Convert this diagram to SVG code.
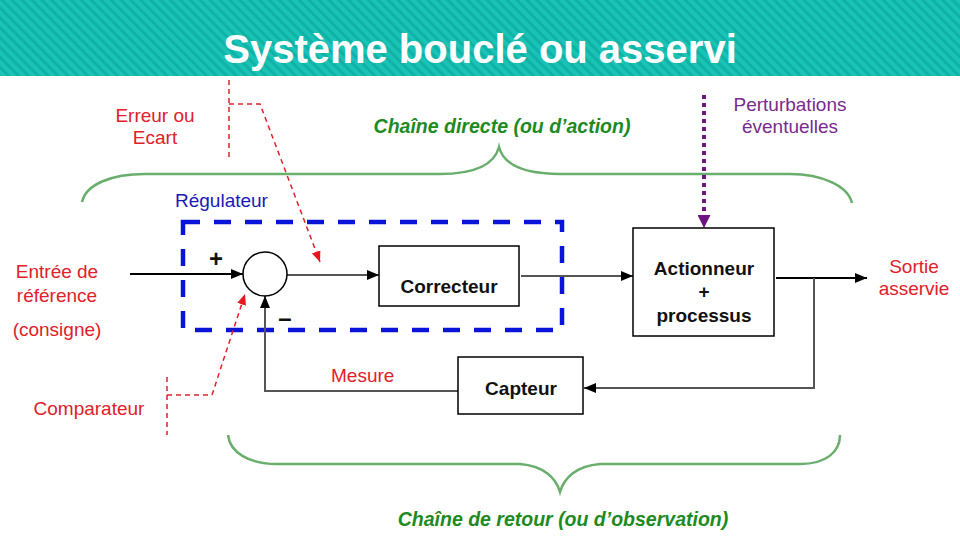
<svg xmlns="http://www.w3.org/2000/svg" width="960" height="540" viewBox="0 0 960 540">
<defs>
<pattern id="stripes" width="7" height="7" patternUnits="userSpaceOnUse" patternTransform="rotate(-45)">
<rect width="7" height="7" fill="#19C3B5"/>
<rect width="3" height="7" fill="#10B2A5"/>
</pattern>
<marker id="ab" viewBox="0 0 12 10" refX="12" refY="5" markerWidth="12" markerHeight="10" markerUnits="userSpaceOnUse" orient="auto">
<path d="M0,0 L12,5 L0,10 z" fill="#000"/>
</marker>
<marker id="ar" viewBox="0 0 12 10" refX="12" refY="5" markerWidth="11" markerHeight="9" markerUnits="userSpaceOnUse" orient="auto">
<path d="M0,0 L12,5 L0,10 z" fill="#E8141E"/>
</marker>
<marker id="ap" viewBox="0 0 12 12" refX="12" refY="6" markerWidth="13" markerHeight="13" markerUnits="userSpaceOnUse" orient="auto">
<path d="M0,0 L12,6 L0,12 z" fill="#6E1480"/>
</marker>
<style>
.t{font-family:"Liberation Sans",Arial,sans-serif;}
.red{fill:#E0202A;font-size:19px;}
.blk{fill:#111;font-size:19px;font-weight:bold;}
.grn{fill:#1E8A22;font-size:19.5px;font-weight:bold;font-style:italic;}
.box{fill:#fff;stroke:#000;stroke-width:1.5;}
.ln{fill:none;stroke:#555;stroke-width:2;}
.lnb{fill:none;stroke:#000;stroke-width:2;}
.rd{fill:none;stroke:#E0202A;stroke-width:1.5;stroke-dasharray:5 4;}
.brace{fill:none;stroke:#6AAE6E;stroke-width:2.5;}
</style>
</defs>
<rect x="0" y="0" width="960" height="76" fill="url(#stripes)"/>
<text class="t" x="480" y="63" text-anchor="middle" font-size="40" font-weight="bold" fill="#fff">Système bouclé ou asservi</text>

<g id="braces">
<path class="brace" d="M82,202 C86,184 112,174 145,174 L440,174 C472,174 494,166 499,147 C504,166 526,174 560,174 L790,174 C822,174 848,186 852,203"/>
<path class="brace" d="M228,435 C230,452 248,464 277,464 L520,464 C544,466 556,478 560,492 C564,478 576,466 600,464 L800,464 C826,464 840,452 840,435"/>
<text class="t grn" x="502" y="133" text-anchor="middle">Chaîne directe (ou d’action)</text>
<text class="t grn" x="563" y="526" text-anchor="middle">Chaîne de retour (ou d’observation)</text>
</g>

<g id="regulateur">
<rect x="183" y="222" width="379" height="108" fill="none" stroke="#0A14D8" stroke-width="4.5" stroke-dasharray="17 14"/>
<text class="t" x="175" y="207" font-size="19" fill="#1A1AB8">Régulateur</text>
</g>

<g id="connectors">
<path class="lnb" d="M130,274 L243,274" marker-end="url(#ab)"/>
<path class="ln" d="M287,275 L379,275" marker-end="url(#ab)"/>
<path class="ln" d="M521,276 L633,276" marker-end="url(#ab)"/>
<path class="lnb" d="M776,278 L867,278" marker-end="url(#ab)"/>
<path class="ln" d="M814,278 L814,388 L584,388" marker-end="url(#ab)"/>
<path class="ln" d="M458,391 L265,391 L265,296" marker-end="url(#ab)"/>
<path class="rd" d="M229,80 L229,158"/>
<path class="rd" d="M229,104 L260,104 L320,262" marker-end="url(#ar)"/>
<path class="rd" d="M167,377 L167,435"/>
<path class="rd" d="M167,395 L212,395 L245,294" marker-end="url(#ar)"/>
<path d="M704,95 L704,215" fill="none" stroke="#6E1480" stroke-width="4" stroke-dasharray="4 4"/>
<path d="M704,210 L704,228" fill="none" stroke="none" marker-end="url(#ap)"/>
</g>

<g id="comparateur">
<circle cx="265" cy="274" r="22" fill="#fff" stroke="#000" stroke-width="1.5"/>
<text class="t" x="216" y="267" text-anchor="middle" font-size="24" font-weight="bold" fill="#111">+</text>
<text class="t" x="285" y="326" text-anchor="middle" font-size="24" font-weight="bold" fill="#111">–</text>
</g>

<g id="correcteur">
<rect class="box" x="379" y="246" width="140" height="60"/>
<text class="t blk" x="449" y="293" text-anchor="middle">Correcteur</text>
</g>

<g id="actionneur">
<rect class="box" x="633" y="228" width="141" height="108"/>
<text class="t blk" x="704" y="275" text-anchor="middle">Actionneur</text>
<text class="t blk" x="704" y="298" text-anchor="middle">+</text>
<text class="t blk" x="704" y="322" text-anchor="middle">processus</text>
</g>

<g id="capteur">
<rect class="box" x="458" y="357" width="125" height="57"/>
<text class="t blk" x="521" y="395" text-anchor="middle">Capteur</text>
</g>

<g id="labels">
<text class="t red" x="155" y="122" text-anchor="middle">Erreur ou</text>
<text class="t red" x="155" y="144" text-anchor="middle">Ecart</text>
<text class="t" x="790" y="111" text-anchor="middle" font-size="19" fill="#7A2A8C">Perturbations</text>
<text class="t" x="790" y="133" text-anchor="middle" font-size="19" fill="#7A2A8C">éventuelles</text>
<text class="t red" x="57" y="278" text-anchor="middle">Entrée de</text>
<text class="t red" x="57" y="302" text-anchor="middle">référence</text>
<text class="t red" x="57" y="336" text-anchor="middle">(consigne)</text>
<text class="t red" x="89" y="415" text-anchor="middle">Comparateur</text>
<text class="t red" x="331" y="382">Mesure</text>
<text class="t red" x="914" y="273" text-anchor="middle">Sortie</text>
<text class="t red" x="914" y="295" text-anchor="middle">asservie</text>
</g>
</svg>
